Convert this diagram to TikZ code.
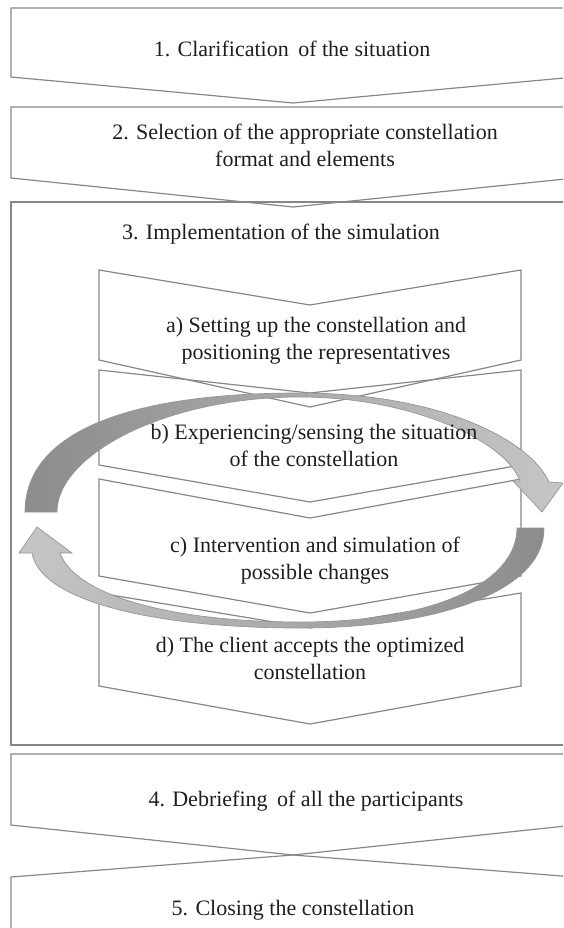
\documentclass[tikz,border=0pt]{standalone}
\usepackage{fontspec}
\setmainfont{Liberation Serif}
\definecolor{edge}{RGB}{135,135,135}
\definecolor{arrdark}{RGB}{140,140,140}
\definecolor{arrlight}{RGB}{198,198,198}
\definecolor{arredge}{RGB}{150,150,150}
\definecolor{txt}{RGB}{30,30,30}
\tikzset{
  shapeline/.style={draw=edge, line width=1.2pt, line join=miter},
  lbl/.style={font=\fontsize{22}{27}\selectfont, text=txt, align=center, inner sep=0pt},
  arrowshape/.style={draw=arredge, line width=0.7pt}
}
\begin{document}
\begin{tikzpicture}[x=1pt,y=-1pt]
\useasboundingbox (0,0) rectangle (563,928);
\clip (0,0) rectangle (563,928);
% outer frame of step 3
\draw[shapeline] (11,202) rectangle (580,745);
% step 1 and 2 chevrons
\draw[shapeline] (11,8) -- (575,8) -- (575,77) -- (293,103) -- (11,77) -- cycle;
\draw[shapeline] (11,107) -- (575,107) -- (575,178) -- (293,207) -- (11,178) -- cycle;
% inner chevrons a-d
\draw[shapeline] (99,270) -- (310,305) -- (521,270) -- (521,360) -- (310,407) -- (99,360) -- cycle;
\draw[shapeline] (99,370) -- (310,393) -- (521,370) -- (521,465) -- (310,502) -- (99,465) -- cycle;
\draw[shapeline] (99,479) -- (310,518) -- (521,479) -- (521,576) -- (310,613) -- (99,576) -- cycle;
\draw[shapeline] (99,593) -- (310,628) -- (521,593) -- (521,686) -- (310,724) -- (99,686) -- cycle;
% step 4 and 5
\draw[shapeline] (11,754) -- (575,754) -- (575,825) -- (293,855) -- (11,825) -- cycle;
\draw[shapeline] (11,877) -- (293,855) -- (575,877) -- (575,940) -- (11,940) -- cycle;
% circular arrows
\path[arrowshape, left color=arrdark, right color=arrlight]
  (25,512) .. controls (25,435) and (121,393) .. (300,393)
  .. controls (440,393) and (530,440) .. (549,482)
  -- (563,483) -- (542,512) -- (513,481) -- (520,481)
  .. controls (505,440) and (410,397) .. (300,397)
  .. controls (165,397) and (57,455) .. (57,512) -- cycle;
\path[arrowshape, left color=arrlight, right color=arrdark]
  (517,528) -- (544,528)
  .. controls (545,590) and (440,628) .. (300,628)
  .. controls (150,628) and (40,600) .. (32,553)
  -- (19,553) -- (37,527) -- (72,553) -- (60,553)
  .. controls (75,595) and (170,622) .. (300,622)
  .. controls (440,622) and (517,580) .. (517,528) -- cycle;
% texts
\node[lbl] (t1) at (292,49) {1. Clarification\hspace{4pt} of the situation};
\node[lbl] (t2) at (305,145) {2. Selection of the appropriate constellation\\format and elements};
\node[lbl] (t3) at (281,234) {3. Implementation of the simulation};
\node[lbl] (ta) at (316,341) {a) Setting up the constellation and\\positioning the representatives};
\node[lbl] (tb) at (314,445) {b) Experiencing/sensing the situation\\of the constellation};
\node[lbl] (tc) at (315,561) {c) Intervention and simulation of\\possible changes};
\node[lbl] (td) at (310,658) {d) The client accepts the optimized\\constellation};
\node[lbl] (t4) at (306,801) {4. Debriefing\hspace{4pt} of all the participants};
\node[lbl] (t5) at (293,910) {5. Closing the constellation};
\end{tikzpicture}
\end{document}
